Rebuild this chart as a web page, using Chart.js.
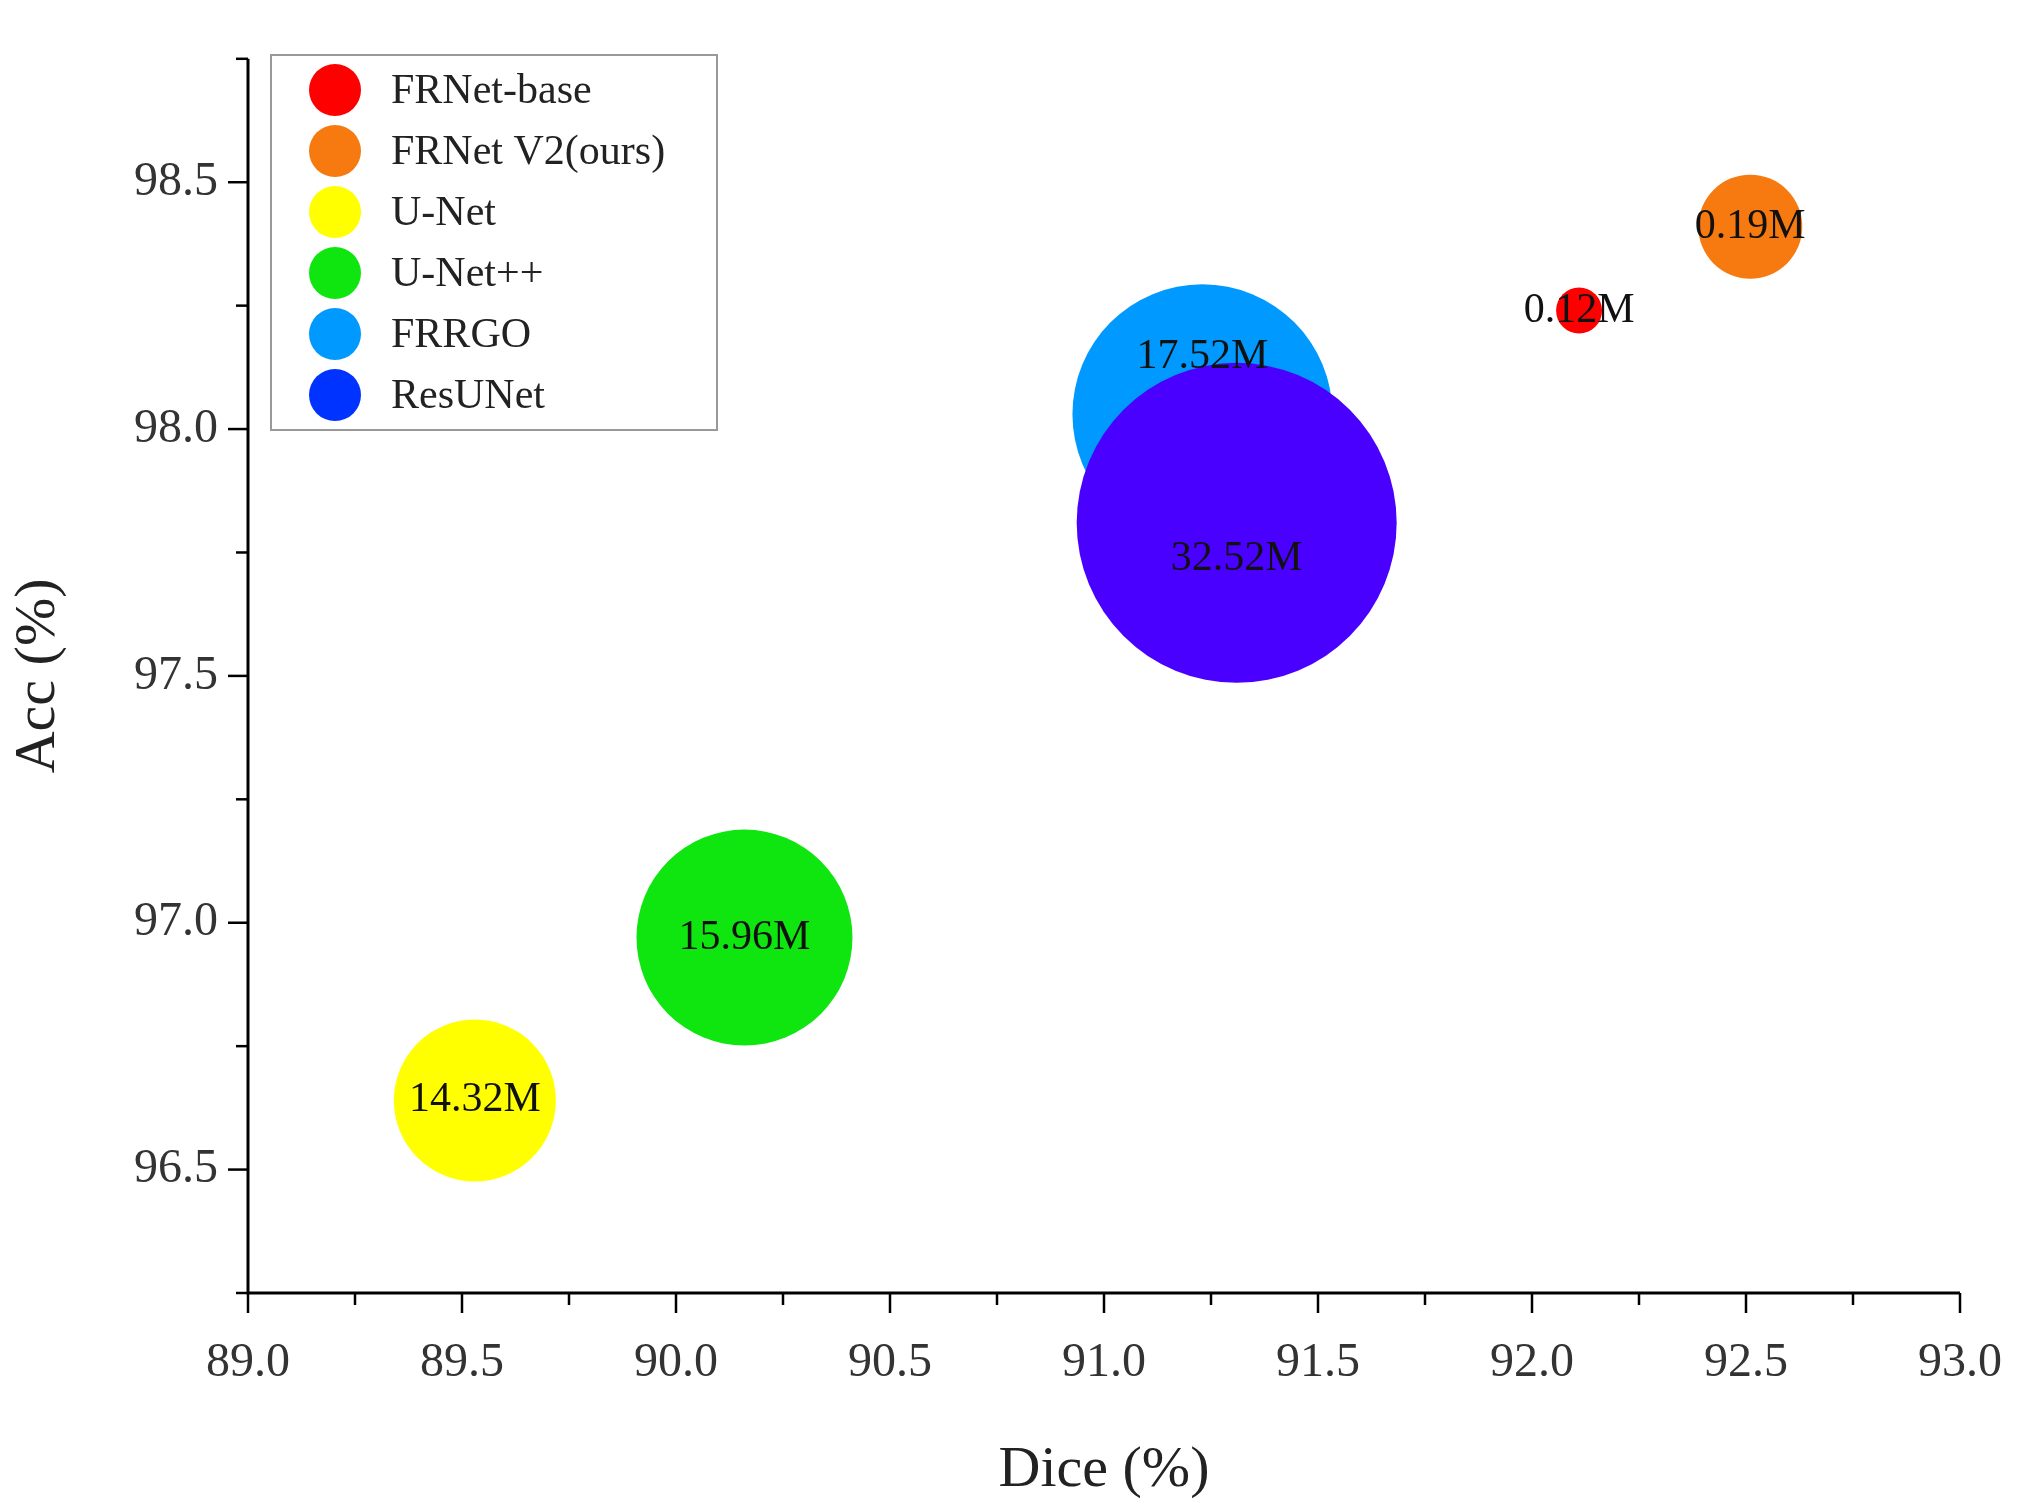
<!DOCTYPE html>
<html><head><meta charset="utf-8">
<script src="https://cdn.jsdelivr.net/npm/chart.js@4/dist/chart.umd.min.js"></script>
<style>html,body{margin:0;padding:0;background:#fff}#wrap{width:2044px;height:1510px}</style>
</head><body><div id="wrap"><canvas id="c" width="2044" height="1510"></canvas></div>
<script>
const models = ["FRNet-base","FRNet V2(ours)","U-Net","U-Net++","FRRGO","ResUNet"];
const dice = [92.11, 92.51, 89.53, 90.16, 91.23, 91.31];
const acc = [98.24, 98.41, 96.64, 96.97, 98.03, 97.81];
const params = ["0.12M","0.19M","14.32M","15.96M","17.52M","32.52M"];
const radii = [23, 52, 81, 108, 130, 160];
const labelDy = [0, 0, 0, 0, -57, 36];
const colors = ["#ff0000","#f77a10","#ffff00","#0fe60f","#0099ff","#4a00ff"];
const legendColors = ["#ff0000","#f77a10","#ffff00","#0fe60f","#0099ff","#0033ff"];
const xTicks = [89.0,89.5,90.0,90.5,91.0,91.5,92.0,92.5,93.0];
const yTicks = [96.5,97.0,97.5,98.0,98.5];
const FONT = "'Liberation Serif', 'DejaVu Serif', serif";

const datasets = models.map((m,i)=>({
  label:m,
  data:[{x:dice[i], y:acc[i], r:radii[i]}],
  backgroundColor:colors[i], borderWidth:0,
  order: models.length - i
}));

const deco = {
  id:'deco',
  afterDatasetsDraw(chart){
    const ctx = chart.ctx, xs = chart.scales.x, ys = chart.scales.y;
    ctx.save();
    ctx.fillStyle = '#111'; ctx.font = `42px ${FONT}`;
    ctx.textAlign='center'; ctx.textBaseline='middle';
    models.forEach((m,i)=>{
      ctx.fillText(params[i], xs.getPixelForValue(dice[i]), ys.getPixelForValue(acc[i])+labelDy[i]);
    });
    const L = chart.chartArea.left, B = chart.chartArea.bottom, T = chart.chartArea.top, R = chart.chartArea.right;
    ctx.strokeStyle='#000'; ctx.lineWidth=3;
    ctx.beginPath(); ctx.moveTo(L,T); ctx.lineTo(L,B); ctx.lineTo(R,B); ctx.stroke();
    ctx.lineWidth=2.5;
    for(let v=89; v<=93.001; v+=0.25){
      const p = xs.getPixelForValue(v); const major = Math.abs(v*2-Math.round(v*2))<1e-6;
      ctx.beginPath(); ctx.moveTo(p,B); ctx.lineTo(p,B+(major?20:12)); ctx.stroke();
    }
    for(let v=96.25; v<=98.751; v+=0.25){
      const p = ys.getPixelForValue(v); const major = Math.abs(v*2-Math.round(v*2))<1e-6;
      ctx.beginPath(); ctx.moveTo(L,p); ctx.lineTo(L-(major?20:12),p); ctx.stroke();
    }
    ctx.fillStyle='#fff'; ctx.strokeStyle='#999'; ctx.lineWidth=2;
    ctx.fillRect(271,55,446,375); ctx.strokeRect(271,55,446,375);
    ctx.font = `42px ${FONT}`; ctx.textAlign='left';
    models.forEach((m,i)=>{
      const y = 90 + i*61;
      ctx.fillStyle = legendColors[i];
      ctx.beginPath(); ctx.arc(335,y,26,0,Math.PI*2); ctx.fill();
      ctx.fillStyle='#222'; ctx.fillText(m,391,y+2);
    });
    ctx.restore();
  }
};

new Chart(document.getElementById('c'),{
  type:'bubble',
  data:{datasets},
  plugins:[deco],
  options:{
    responsive:false, animation:false, devicePixelRatio:1,
    layout:{autoPadding:false, padding:{top:20,right:66,left:0,bottom:0}},
    plugins:{legend:{display:false},tooltip:{enabled:false}},
    scales:{
      x:{type:'linear',min:89,max:93,
        afterBuildTicks(s){s.ticks = xTicks.map(v=>({value:v}));},
        afterFit(s){s.height=217;},
        grid:{display:false,drawTicks:false}, border:{display:false},
        ticks:{padding:42,color:'#333',font:{family:FONT,size:48},maxRotation:0,autoSkip:false,callback:v=>Number(v).toFixed(1)},
        title:{display:true,text:'Dice (%)',color:'#222',font:{family:FONT,size:58},padding:{top:18}}
      },
      y:{type:'linear',min:96.25,max:98.75,
        afterBuildTicks(s){s.ticks = yTicks.map(v=>({value:v}));},
        afterFit(s){s.width=248;},
        grid:{display:false,drawTicks:false}, border:{display:false},
        ticks:{padding:30,color:'#333',font:{family:FONT,size:48},callback:v=>Number(v).toFixed(1)},
        title:{display:true,text:'Acc (%)',color:'#222',font:{family:FONT,size:58},padding:{bottom:10}}
      }
    }
  }
});
</script></body></html>
